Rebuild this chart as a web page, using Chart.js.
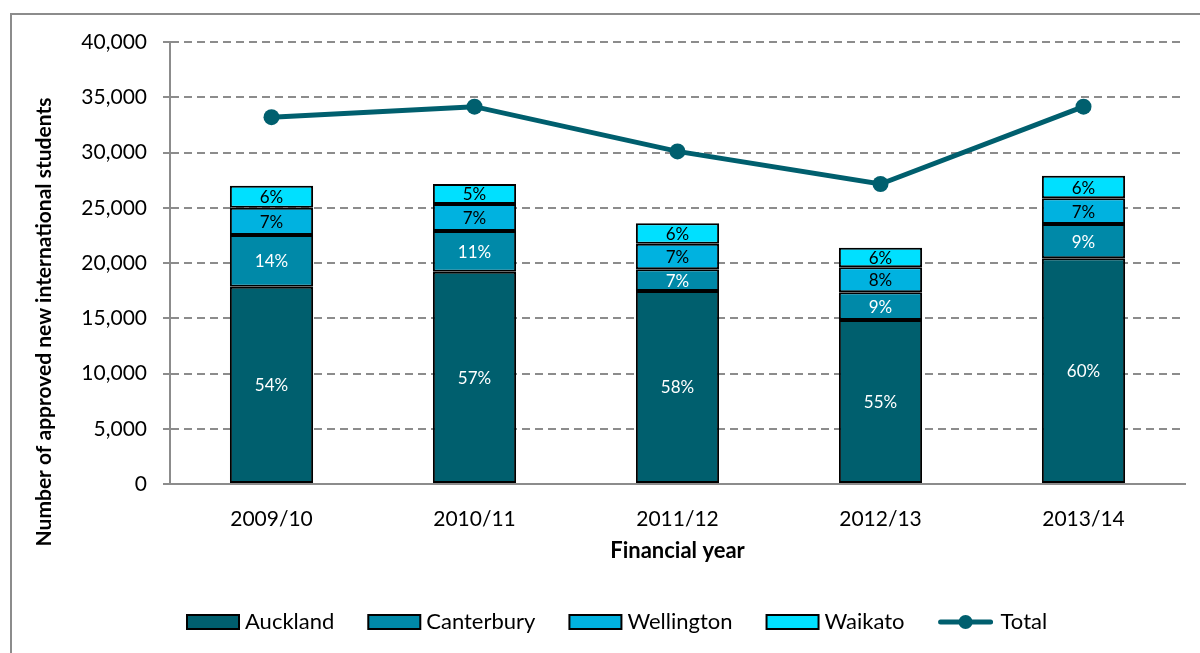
<!DOCTYPE html>
<html>
<head>
<meta charset="utf-8">
<script src="https://cdn.jsdelivr.net/npm/chart.js@4"></script>
<style>
html,body{margin:0;padding:0;background:#fff;overflow:hidden}
#wrap{position:relative;width:1200px;height:653px}
#frame{position:absolute;left:10px;top:13px;width:1300px;height:800px;border:2px solid #8c8c8c;box-sizing:border-box}
#myChart{position:absolute;left:0;top:0}
</style>
</head>
<body>
<div id="wrap">
  <div id="frame"></div>
  <canvas id="myChart" width="1200" height="653"></canvas>
</div>
<script>
const years = ['2009/10', '2010/11', '2011/12', '2012/13', '2013/14'];
const auckland   = [17860, 19210, 17470, 14840, 20430];
const canterbury = [4670, 3690, 1960, 2510, 3100];
const wellington = [2470, 2440, 2320, 2260, 2320];
const waikato    = [2000, 1810, 1840, 1770, 2050];
const total      = [33200, 34150, 30100, 27150, 34150];

// share of total, as printed on the bars
const aucklandPct   = ['54%', '57%', '58%', '55%', '60%'];
const canterburyPct = ['14%', '11%', '7%', '9%', '9%'];
const wellingtonPct = ['7%', '7%', '7%', '8%', '7%'];
const waikatoPct    = ['6%', '5%', '6%', '6%', '6%'];

const yTicks = [0, 5000, 10000, 15000, 20000, 25000, 30000, 35000, 40000];

const FONT = 'Lato, "DejaVu Sans", sans-serif';
const teal = '#005f6e';

function barSet(label, data, color, pct, textColor) {
  return {
    type: 'bar', label: label, data: data, pct: pct, textColor: textColor,
    backgroundColor: color, borderColor: '#000', borderWidth: 2, borderSkipped: false,
    barPercentage: 0.41, categoryPercentage: 1, stack: 'regions', order: 1
  };
}

// percentage labels inside each segment
const segLabels = {
  id: 'segLabels',
  afterDatasetsDraw(chart) {
    const ctx = chart.ctx;
    ctx.save();
    ctx.font = '17px ' + FONT;
    ctx.textAlign = 'center';
    ctx.textBaseline = 'middle';
    chart.data.datasets.forEach((ds, i) => {
      if (!ds.pct) return;
      chart.getDatasetMeta(i).data.forEach((bar, j) => {
        const p = bar.getProps(['x', 'y', 'base'], true);
        ctx.fillStyle = ds.textColor;
        ctx.fillText(ds.pct[j], p.x, (p.y + p.base) / 2 + 1);
      });
    });
    ctx.restore();
  }
};

// y title centred on the whole frame + the legend row
const extras = {
  id: 'extras',
  afterDraw(chart) {
    const ctx = chart.ctx;
    ctx.save();
    ctx.fillStyle = '#000';
    ctx.font = 'bold 21px ' + FONT;
    ctx.textAlign = 'center';
    ctx.textBaseline = 'middle';
    ctx.translate(44, 322);
    ctx.rotate(-Math.PI / 2);
    ctx.fillText('Number of approved new international students', 0, 0);
    ctx.restore();

    ctx.save();
    ctx.font = '22px ' + FONT;
    ctx.textBaseline = 'middle';
    let x = 187;
    const y = 622;
    chart.data.datasets.forEach(ds => {
      if (ds.type === 'bar') {
        ctx.fillStyle = ds.backgroundColor;
        ctx.fillRect(x, y - 7, 52, 14);
        ctx.strokeStyle = '#000';
        ctx.lineWidth = 2;
        ctx.strokeRect(x, y - 7, 52, 14);
      } else {
        ctx.strokeStyle = ds.borderColor;
        ctx.lineWidth = 5;
        ctx.lineCap = 'round';
        ctx.beginPath();
        ctx.moveTo(x + 2, y);
        ctx.lineTo(x + 52, y);
        ctx.stroke();
        ctx.fillStyle = ds.borderColor;
        ctx.beginPath();
        ctx.arc(x + 27, y, 7, 0, Math.PI * 2);
        ctx.fill();
        x += 4;
      }
      ctx.fillStyle = '#000';
      ctx.fillText(ds.label, x + 58, y);
      x += 58 + ctx.measureText(ds.label).width + 34;
    });
    ctx.restore();
  }
};

const order = ['Auckland', 'Canterbury', 'Wellington', 'Waikato', 'Total'];

new Chart(document.getElementById('myChart'), {
  data: {
    labels: years,
    datasets: [
      barSet('Auckland', auckland, '#005f6e', aucklandPct, '#fff'),
      barSet('Canterbury', canterbury, '#0089a8', canterburyPct, '#fff'),
      barSet('Wellington', wellington, '#00b2e0', wellingtonPct, '#000'),
      barSet('Waikato', waikato, '#00e0ff', waikatoPct, '#000'),
      {
        type: 'line', label: 'Total', data: total, stack: 'total', order: 0,
        borderColor: teal, backgroundColor: teal, borderWidth: 5,
        pointRadius: 8, pointHoverRadius: 8, pointBackgroundColor: teal, pointBorderWidth: 0,
        tension: 0
      }
    ]
  },
  options: {
    responsive: false,
    animation: false,
    layout: { padding: { left: 0, right: 15, top: 42, bottom: 88 } },
    plugins: { legend: { display: false }, tooltip: { enabled: false } },
    scales: {
      x: {
        stacked: true,
        grid: { display: false },
        border: { display: true, color: '#8c8c8c', width: 2 },
        ticks: { color: '#000', font: { family: FONT, size: 21 }, padding: 15 },
        title: {
          display: true, text: 'Financial year', color: '#000',
          font: { family: FONT, size: 22, weight: 'bold' }, padding: { top: 0, bottom: 1 }
        },
        afterFit(scale) { scale.height = 81; }
      },
      y: {
        stacked: true,
        min: 0, max: 40000,
        afterBuildTicks(scale) { scale.ticks = yTicks.map(v => ({ value: v })); },
        grid: {
          color: '#8c8c8c', lineWidth: 2, tickLength: 7,
          tickColor: '#8c8c8c', tickWidth: 2, tickBorderDash: []
        },
        border: { display: true, color: '#8c8c8c', width: 2, dash: [8, 5] },
        ticks: {
          color: '#000', font: { family: FONT, size: 21 }, padding: 16,
          callback: v => v.toLocaleString('en-US')
        },
        afterFit(scale) { scale.width = 170; }
      }
    }
  },
  plugins: [segLabels, extras]
});
</script>
</body>
</html>
